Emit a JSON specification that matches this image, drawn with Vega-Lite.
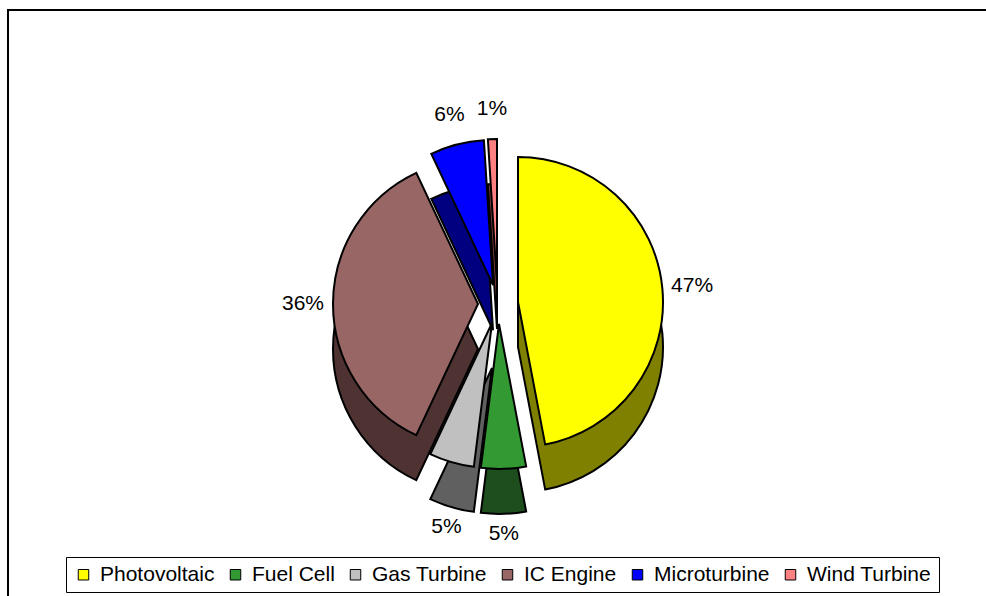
{
  "$schema": "https://vega.github.io/schema/vega-lite/v6.json",
  "width": 980,
  "height": 588,
  "autosize": "none",
  "padding": {"left": 8, "top": 10, "right": 0, "bottom": 0},
  "background": "white",
  "view": {"stroke": "black", "strokeWidth": 2},
  "config": {
    "view": {"stroke": "black", "strokeWidth": 2},
    "legend": {
      "orient": "none",
      "legendX": 58,
      "legendY": 547,
      "direction": "horizontal",
      "columns": 6,
      "title": null,
      "symbolType": "square",
      "symbolSize": 110,
      "symbolStrokeColor": "black",
      "symbolStrokeWidth": 1,
      "labelFont": "Liberation Sans",
      "labelFontSize": 21,
      "labelColor": "black",
      "labelLimit": 0,
      "labelOffset": 6,
      "columnPadding": 10,
      "padding": 7,
      "strokeColor": "black",
      "fillColor": "white"
    }
  },
  "data": {
    "values": [
      {"source": "Photovoltaic", "share": 0.47},
      {"source": "Fuel Cell", "share": 0.05},
      {"source": "Gas Turbine", "share": 0.05},
      {"source": "IC Engine", "share": 0.36},
      {"source": "Microturbine", "share": 0.06},
      {"source": "Wind Turbine", "share": 0.01}
    ]
  },
  "transform": [{"stack": "share", "groupby": [], "as": ["v0", "v1"]}],
  "layer": [
    {
      "transform": [{"filter": "datum.source === 'Wind Turbine'"}],
      "layer": [
        {"mark": {"type": "arc", "outerRadius": 145, "fill": "#804040", "stroke": "black", "strokeWidth": 2, "xOffset": -1, "yOffset": 25},
         "encoding": {"theta": {"field": "v0", "type": "quantitative", "scale": {"domain": [0, 1]}}, "theta2": {"field": "v1"}}},
        {"mark": {"type": "arc", "outerRadius": 145, "stroke": "black", "strokeWidth": 2, "xOffset": -1, "yOffset": -20},
         "encoding": {"theta": {"field": "v0", "type": "quantitative", "scale": {"domain": [0, 1]}}, "theta2": {"field": "v1"},
           "color": {"field": "source", "type": "nominal", "scale": {"domain": ["Photovoltaic", "Fuel Cell", "Gas Turbine", "IC Engine", "Microturbine", "Wind Turbine"], "range": ["#FFFF00", "#339933", "#C0C0C0", "#996666", "#0000FF", "#FF8080"]}}}}
      ]
    },
    {
      "transform": [{"filter": "datum.source === 'Microturbine'"}],
      "layer": [
        {"mark": {"type": "arc", "outerRadius": 145, "fill": "#000080", "stroke": "black", "strokeWidth": 2, "xOffset": -5, "yOffset": 26},
         "encoding": {"theta": {"field": "v0", "type": "quantitative", "scale": {"domain": [0, 1]}}, "theta2": {"field": "v1"}}},
        {"mark": {"type": "arc", "outerRadius": 145, "stroke": "black", "strokeWidth": 2, "xOffset": -5, "yOffset": -19},
         "encoding": {"theta": {"field": "v0", "type": "quantitative", "scale": {"domain": [0, 1]}}, "theta2": {"field": "v1"},
           "color": {"field": "source", "type": "nominal", "scale": {"domain": ["Photovoltaic", "Fuel Cell", "Gas Turbine", "IC Engine", "Microturbine", "Wind Turbine"], "range": ["#FFFF00", "#339933", "#C0C0C0", "#996666", "#0000FF", "#FF8080"]}}}}
      ]
    },
    {
      "transform": [{"filter": "datum.source === 'IC Engine'"}],
      "layer": [
        {"mark": {"type": "arc", "outerRadius": 145, "fill": "#4F3333", "stroke": "black", "strokeWidth": 2, "xOffset": -20, "yOffset": 45},
         "encoding": {"theta": {"field": "v0", "type": "quantitative", "scale": {"domain": [0, 1]}}, "theta2": {"field": "v1"}}},
        {"mark": {"type": "arc", "outerRadius": 145, "stroke": "black", "strokeWidth": 2, "xOffset": -20, "yOffset": 0},
         "encoding": {"theta": {"field": "v0", "type": "quantitative", "scale": {"domain": [0, 1]}}, "theta2": {"field": "v1"},
           "color": {"field": "source", "type": "nominal", "scale": {"domain": ["Photovoltaic", "Fuel Cell", "Gas Turbine", "IC Engine", "Microturbine", "Wind Turbine"], "range": ["#FFFF00", "#339933", "#C0C0C0", "#996666", "#0000FF", "#FF8080"]}}}}
      ]
    },
    {
      "transform": [{"filter": "datum.source === 'Photovoltaic'"}],
      "layer": [
        {"mark": {"type": "arc", "outerRadius": 145, "fill": "#808000", "stroke": "black", "strokeWidth": 2, "xOffset": 20, "yOffset": 43},
         "encoding": {"theta": {"field": "v0", "type": "quantitative", "scale": {"domain": [0, 1]}}, "theta2": {"field": "v1"}}},
        {"mark": {"type": "arc", "outerRadius": 145, "stroke": "black", "strokeWidth": 2, "xOffset": 20, "yOffset": -2},
         "encoding": {"theta": {"field": "v0", "type": "quantitative", "scale": {"domain": [0, 1]}}, "theta2": {"field": "v1"},
           "color": {"field": "source", "type": "nominal", "scale": {"domain": ["Photovoltaic", "Fuel Cell", "Gas Turbine", "IC Engine", "Microturbine", "Wind Turbine"], "range": ["#FFFF00", "#339933", "#C0C0C0", "#996666", "#0000FF", "#FF8080"]}}}}
      ]
    },
    {
      "transform": [{"filter": "datum.source === 'Gas Turbine'"}],
      "layer": [
        {"mark": {"type": "arc", "outerRadius": 145, "fill": "#606060", "stroke": "black", "strokeWidth": 2, "xOffset": -6, "yOffset": 64},
         "encoding": {"theta": {"field": "v0", "type": "quantitative", "scale": {"domain": [0, 1]}}, "theta2": {"field": "v1"}}},
        {"mark": {"type": "arc", "outerRadius": 145, "stroke": "black", "strokeWidth": 2, "xOffset": -6, "yOffset": 19},
         "encoding": {"theta": {"field": "v0", "type": "quantitative", "scale": {"domain": [0, 1]}}, "theta2": {"field": "v1"},
           "color": {"field": "source", "type": "nominal", "scale": {"domain": ["Photovoltaic", "Fuel Cell", "Gas Turbine", "IC Engine", "Microturbine", "Wind Turbine"], "range": ["#FFFF00", "#339933", "#C0C0C0", "#996666", "#0000FF", "#FF8080"]}}}}
      ]
    },
    {
      "transform": [{"filter": "datum.source === 'Fuel Cell'"}],
      "layer": [
        {"mark": {"type": "arc", "outerRadius": 145, "fill": "#1E4D1E", "stroke": "black", "strokeWidth": 2, "xOffset": 1, "yOffset": 65},
         "encoding": {"theta": {"field": "v0", "type": "quantitative", "scale": {"domain": [0, 1]}}, "theta2": {"field": "v1"}}},
        {"mark": {"type": "arc", "outerRadius": 145, "stroke": "black", "strokeWidth": 2, "xOffset": 1, "yOffset": 20},
         "encoding": {"theta": {"field": "v0", "type": "quantitative", "scale": {"domain": [0, 1]}}, "theta2": {"field": "v1"},
           "color": {"field": "source", "type": "nominal", "scale": {"domain": ["Photovoltaic", "Fuel Cell", "Gas Turbine", "IC Engine", "Microturbine", "Wind Turbine"], "range": ["#FFFF00", "#339933", "#C0C0C0", "#996666", "#0000FF", "#FF8080"]}}}}
      ]
    },
    {
      "mark": {"type": "text", "radius": 195, "font": "Liberation Sans", "fontSize": 21, "fill": "black", "align": "center", "baseline": "middle"},
      "encoding": {
        "theta": {"field": "share", "type": "quantitative", "stack": true, "scale": {"domain": [0, 1]}},
        "order": {"field": "v0", "type": "quantitative"},
        "text": {"field": "share", "type": "quantitative", "format": ".0%"},
        "opacity": {"condition": {"test": "datum.source === 'Gas Turbine' || datum.source === 'Fuel Cell'", "value": 0}, "value": 1}
      }
    },
    {
      "mark": {"type": "text", "radius": 185, "font": "Liberation Sans", "fontSize": 21, "fill": "black", "align": "center", "baseline": "middle", "yOffset": 45},
      "encoding": {
        "theta": {"field": "share", "type": "quantitative", "stack": true, "scale": {"domain": [0, 1]}},
        "order": {"field": "v0", "type": "quantitative"},
        "text": {"field": "share", "type": "quantitative", "format": ".0%"},
        "opacity": {"condition": {"test": "datum.source === 'Gas Turbine' || datum.source === 'Fuel Cell'", "value": 1}, "value": 0}
      }
    }
  ]
}
